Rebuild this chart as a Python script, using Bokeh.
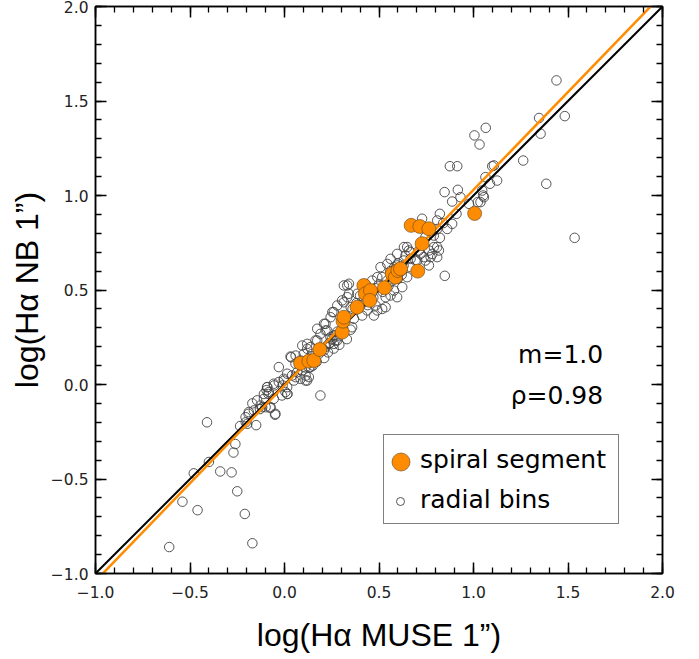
from bokeh.plotting import figure
from bokeh.models import (Range1d, FixedTicker, LinearAxis, Legend, LegendItem,
                          Label, ColumnDataSource, CustomJSTickFormatter)
from bokeh.embed import file_html
from bokeh.resources import INLINE

# ---------------- data ----------------
radial_x = [
    -0.61, -0.54, -0.46, -0.48, -0.40, -0.41, -0.34, -0.28, -0.25, -0.21, -0.17, -0.27, -0.26,
    -0.235, -0.205, -0.15, -0.19, -0.17, -0.05, -0.13, -0.10, -0.075, -0.095, -0.085, -0.055,
    -0.01, 0.015,
    -0.162, -0.206, -0.189, -0.109, -0.083, -0.092, -0.057, -0.030, -0.004, 0.014, 0.040,
    0.058, 0.085, 0.111, 0.129, 0.005, -0.013, -0.057, -0.074, -0.048, -0.127, -0.145, 0.014,
    0.067, 0.093, 0.120, 0.137, 0.173, 0.190, 0.226, 0.243, 0.208, 0.261, 0.217, 0.279, 0.120,
    0.146, 0.102, 0.085, 0.058, 0.190, 0.035, -0.03,
    0.16, 0.18, 0.20, 0.22, 0.24, 0.25, 0.27, 0.28, 0.30, 0.31, 0.17, 0.15, 0.13, 0.11, 0.21,
    0.23, 0.26, 0.29, 0.33, 0.35,
    0.341, 0.314, 0.261, 0.279, 0.305, 0.244, 0.173, 0.217, 0.164, 0.235, 0.270, 0.358, 0.438,
    0.482, 0.491, 0.517, 0.473, 0.411, 0.367, 0.535, 0.561, 0.596, 0.579, 0.623, 0.649, 0.667,
    0.702, 0.746, 0.782, 0.790, 0.649, 0.667, 0.596, 0.561, 0.544, 0.508, 0.491, 0.464, 0.544,
    0.517, 0.623, 0.632, 0.667, 0.596, 0.764, 0.341, 0.385, 0.447, 0.402, 0.350,
    0.032, 0.209, 0.253, 0.314, 0.332, 0.535, 0.332, 0.261, 0.120, 0.094, 0.059, 0.138, 0.112,
    0.120, 0.050, -0.003, 0.015, -0.091, -0.109, -0.118, -0.197,
    0.875, 0.914, 1.108, 1.263, 1.125, 1.087, 0.847, 0.917, 0.931, 0.887, 1.046, 1.051, 1.023,
    0.976, 0.910, 0.822, 0.808, 0.840, 0.887, 0.861, 0.808, 0.790, 0.822, 0.808, 0.817, 0.764,
    0.720, 0.773, 0.658, 0.640, 0.693, 0.632, 0.746, 0.711, 0.808, 0.737,
    1.005, 1.065, 1.032, 1.347, 1.355, 1.439, 1.483, 1.385, 1.535, 1.099, 0.848, 0.728, 1.037,
    1.063, 1.055,
    0.40, 0.43, 0.46, 0.48, 0.50, 0.52, 0.55, 0.57, 0.60, 0.62, 0.38, 0.36, 0.44, 0.42, 0.47,
    0.56, 0.60, 0.63, 0.58,
]
radial_y = [
    -0.86, -0.62, -0.665, -0.47, -0.41, -0.20, -0.46, -0.465, -0.565, -0.685, -0.84, -0.36, -0.315,
    -0.22, -0.20, -0.215, -0.155, -0.10, -0.16, -0.13, -0.12, -0.125, -0.03, -0.05, -0.005,
    -0.005, -0.05,
    -0.137, -0.173, -0.146, -0.076, -0.040, -0.014, 0.004, 0.013, 0.030, 0.057, 0.048,
    0.039, 0.030, 0.021, 0.039, -0.040, -0.058, -0.076, -0.120, -0.155, -0.111, -0.084, -0.014,
    0.065, 0.074, 0.127, 0.198, 0.233, 0.268, 0.286, 0.250, 0.180, 0.215, 0.321, 0.233, 0.215,
    0.162, 0.162, 0.127, 0.110, -0.058, 0.144, 0.092,
    0.15, 0.16, 0.19, 0.20, 0.22, 0.24, 0.26, 0.28, 0.27, 0.30, 0.12, 0.10, 0.09, 0.09, 0.14,
    0.17, 0.19, 0.21, 0.24, 0.29,
    0.533, 0.524, 0.383, 0.418, 0.445, 0.356, 0.295, 0.286, 0.233, 0.215, 0.233, 0.303, 0.392,
    0.418, 0.392, 0.400, 0.365, 0.365, 0.348, 0.462, 0.471, 0.462, 0.497, 0.515, 0.568, 0.621,
    0.656, 0.656, 0.691, 0.727, 0.727, 0.700, 0.691, 0.665, 0.638, 0.621, 0.568, 0.550, 0.550,
    0.568, 0.603, 0.656, 0.665, 0.630, 0.630, 0.480, 0.480, 0.445, 0.418, 0.409,
    0.148, 0.321, 0.383, 0.435, 0.462, 0.409, 0.524, 0.259, 0.189, 0.206, 0.153, 0.092, 0.047,
    0.021, 0.021, 0.021, -0.050, -0.014, -0.050, -0.120, -0.208,
    1.155, 1.155, 1.159, 1.185, 1.079, 1.062, 1.018, 1.030, 0.991, 0.968, 1.026, 1.000, 0.965,
    0.956, 0.903, 0.903, 0.868, 0.854, 0.850, 0.823, 0.823, 0.788, 0.776, 0.727, 0.709, 0.709,
    0.691, 0.674, 0.709, 0.682, 0.656, 0.727, 0.780, 0.709, 0.674, 0.674,
    1.318, 1.358, 1.270, 1.410, 1.327, 1.609, 1.420, 1.062, 0.776, 1.155, 0.575, 0.877, 0.965,
    1.097, 0.991,
    0.47, 0.53, 0.48, 0.51, 0.53, 0.49, 0.52, 0.55, 0.56, 0.58, 0.43, 0.40, 0.42, 0.44, 0.46,
    0.60, 0.64, 0.63, 0.62,
]
spiral_x = [0.085, 0.129, 0.155, 0.187, 0.305, 0.310, 0.314, 0.384, 0.420, 0.428, 0.455, 0.451,
            0.529, 0.570, 0.587, 0.600, 0.614, 0.705, 0.728, 0.670, 0.716, 0.764, 1.006]
spiral_y = [0.113, 0.124, 0.127, 0.185, 0.277, 0.335, 0.356, 0.409, 0.524, 0.480, 0.497, 0.445,
            0.512, 0.586, 0.568, 0.603, 0.612, 0.600, 0.745, 0.842, 0.836, 0.824, 0.905]

fit_slope = 1.035
fit_intercept = -0.005
one_to_one_slope = 1.0

major_ticks = [-1.0, -0.5, 0.0, 0.5, 1.0, 1.5, 2.0]
minor_ticks = [round(-1.0 + 0.1 * i, 1) for i in range(31)]

x_label = "log(H\u03b1 MUSE 1\u201d)"
y_label = "log(H\u03b1 NB 1\u201d)"
annot_m = "m=1.0"
annot_rho = "\u03c1=0.98"

ORANGE = "#FF8C00"
AX_FONT = "Liberation Sans"
TXT_FONT = "DejaVu Sans"

# ---------------- figure ----------------
p = figure(width=699, height=659, x_range=Range1d(-1, 2), y_range=Range1d(-1, 2),
           output_backend="svg", toolbar_location=None,
           min_border_left=95, min_border_right=37, min_border_top=6, min_border_bottom=86,
           x_axis_label=x_label, y_axis_label=y_label)
p.xgrid.visible = False
p.ygrid.visible = False
p.outline_line_color = "black"
p.outline_line_width = 1.5
p.background_fill_color = "white"
p.border_fill_color = "white"

fmt_code = "return tick.toFixed(1).replace('-', '\\u2212');"


def style_axis(ax, labels=True):
    ax.ticker = FixedTicker(ticks=major_ticks, minor_ticks=minor_ticks)
    ax.major_tick_in = 11
    ax.major_tick_out = 0
    ax.minor_tick_in = 6
    ax.minor_tick_out = 0
    ax.major_tick_line_width = 1.5
    ax.minor_tick_line_width = 1.3
    ax.major_tick_line_color = "black"
    ax.minor_tick_line_color = "black"
    ax.axis_line_width = 1.5
    ax.axis_line_color = "black"
    if labels:
        ax.formatter = CustomJSTickFormatter(code=fmt_code)
        ax.major_label_text_font = TXT_FONT
        ax.major_label_text_font_size = "15.5px"
        ax.major_label_text_color = "#222222"
        ax.axis_label_text_font = AX_FONT
        ax.axis_label_text_font_size = "32px"
        ax.axis_label_text_font_style = "normal"
        ax.axis_label_text_color = "black"
    else:
        ax.formatter = CustomJSTickFormatter(code="return '';")
        ax.major_label_text_font_size = "0px"
        ax.major_label_standoff = 0


style_axis(p.xaxis[0])
style_axis(p.yaxis[0])
p.xaxis[0].major_label_standoff = 12
p.xaxis[0].axis_label_standoff = 16
p.yaxis[0].major_label_standoff = 7
p.yaxis[0].axis_label_standoff = 3

top_ax = LinearAxis()
right_ax = LinearAxis()
style_axis(top_ax, labels=False)
style_axis(right_ax, labels=False)
p.add_layout(top_ax, "above")
p.add_layout(right_ax, "right")

# ---------------- glyphs ----------------
radial_src = ColumnDataSource(data=dict(x=radial_x, y=radial_y))
spiral_src = ColumnDataSource(data=dict(x=spiral_x, y=spiral_y))

radial_r = p.scatter("x", "y", source=radial_src, marker="circle", size=9.5,
                     fill_alpha=0, line_color="#444444", line_width=1, line_alpha=0.9)

line_x = [p.x_range.start, p.x_range.end]
p.line(line_x, [one_to_one_slope * v for v in line_x], line_color="black", line_width=2)
p.line(line_x, [fit_slope * v + fit_intercept for v in line_x], line_color=ORANGE, line_width=2.5)

spiral_r = p.scatter("x", "y", source=spiral_src, marker="circle", size=14,
                     fill_color=ORANGE, line_color="#6b4a1e", line_width=0.8, line_alpha=0.8)

ghost = p.line(x=[], y=[], line_alpha=0)

# ---------------- annotations ----------------
p.add_layout(Label(x=1.686, y=0.157, text=annot_m, text_align="right",
                   text_baseline="middle", text_font=TXT_FONT,
                   text_font_size="25px", text_color="black"))
p.add_layout(Label(x=1.686, y=-0.060, text=annot_rho, text_align="right",
                   text_baseline="middle", text_font=TXT_FONT,
                   text_font_size="25px", text_color="black"))

# legend box with labels (glyphs are drawn by two overlay legends)
leg_box = Legend(items=[LegendItem(label="spiral segment", renderers=[ghost]),
                        LegendItem(label="radial bins", renderers=[ghost])],
                 location=(288, 49), padding=4, spacing=0, margin=0,
                 glyph_width=27, glyph_height=40, label_standoff=5, label_width=194,
                 label_text_font=TXT_FONT, label_text_font_size="25px",
                 label_text_color="black",
                 border_line_color="black", border_line_width=1.2,
                 background_fill_color="white", background_fill_alpha=1)
leg_orange = Legend(items=[LegendItem(label=" ", renderers=[spiral_r])],
                    location=(283.2, 89.5), padding=0, spacing=0, margin=0,
                    glyph_width=45, glyph_height=45, label_standoff=0, label_width=0,
                    label_text_font_size="8px",
                    border_line_alpha=0, background_fill_alpha=0)
leg_open = Legend(items=[LegendItem(label=" ", renderers=[radial_r])],
                  location=(295, 62), padding=0, spacing=0, margin=0,
                  glyph_width=20, glyph_height=20, label_standoff=0, label_width=0,
                  label_text_font_size="8px",
                  border_line_alpha=0, background_fill_alpha=0)
p.add_layout(leg_box, "center")
p.add_layout(leg_orange, "center")
p.add_layout(leg_open, "center")

open("out.html", "w").write(file_html(p, INLINE))
